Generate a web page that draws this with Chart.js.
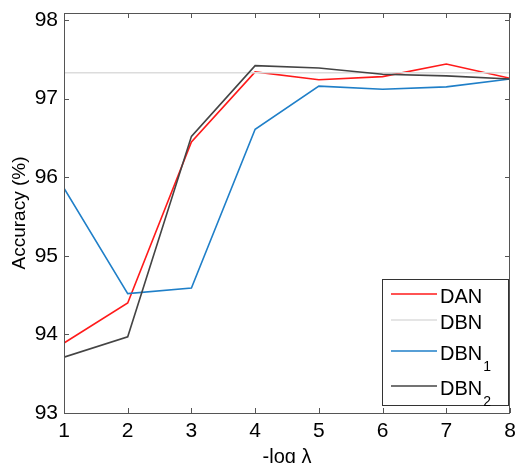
<!DOCTYPE html>
<html>
<head>
<meta charset="utf-8">
<script src="https://cdn.jsdelivr.net/npm/chart.js@4.4.0/dist/chart.umd.min.js"></script>
<style>
  html, body { margin: 0; padding: 0; background: #fff; }
  #wrap { width: 518px; height: 463px; }
</style>
</head>
<body>
<div id="wrap"><canvas id="accChart" width="518" height="463"></canvas></div>
<script>
// -log lambda on x, accuracy (%) on y
const lambdas = [1, 2, 3, 4, 5, 6, 7, 8];
const danAcc  = [93.89, 94.40, 96.45, 97.34, 97.24, 97.28, 97.44, 97.26];
const dbnAcc  = [97.33, 97.33, 97.33, 97.33, 97.33, 97.33, 97.33, 97.33];
const dbn1Acc = [95.86, 94.52, 94.59, 96.61, 97.16, 97.12, 97.15, 97.25];
const dbn2Acc = [93.71, 93.97, 96.52, 97.42, 97.39, 97.31, 97.29, 97.25];
const xTicks = [1, 2, 3, 4, 5, 6, 7, 8];
const yTicks = [93, 94, 95, 96, 97, 98];

const FONT = "'Liberation Sans', Arial, sans-serif";
const AXIS_COLOR = '#555';

const series = [
    { label: 'DAN',  sub: '',  data: danAcc,  color: '#ff1a1a' },
    { label: 'DBN',  sub: '',  data: dbnAcc,  color: '#dcdcdc' },
    { label: 'DBN',  sub: '1', data: dbn1Acc, color: '#1f7fc8' },
    { label: 'DBN',  sub: '2', data: dbn2Acc, color: '#444444' }
];

function toPoints(vals) {
    return lambdas.map((x, i) => ({ x: x, y: vals[i] }));
}

// box round the plot + inward ticks on every side (matlab look)
const framePlugin = {
    id: 'frame',
    afterDatasetsDraw(chart) {
        const { ctx, chartArea: a, scales } = chart;
        const tl = 5;
        ctx.save();
        ctx.strokeStyle = AXIS_COLOR;
        ctx.lineWidth = 1;
        ctx.strokeRect(Math.round(a.left) + 0.5, Math.round(a.top) + 0.5,
                       Math.round(a.right - a.left) - 1, Math.round(a.bottom - a.top));
        ctx.beginPath();
        xTicks.forEach(v => {
            const px = Math.round(scales.x.getPixelForValue(v)) + 0.5;
            ctx.moveTo(px, a.bottom); ctx.lineTo(px, a.bottom - tl);
            ctx.moveTo(px, a.top); ctx.lineTo(px, a.top + tl);
        });
        yTicks.forEach(v => {
            const py = Math.round(scales.y.getPixelForValue(v)) + 0.5;
            ctx.moveTo(a.left, py); ctx.lineTo(a.left + tl, py);
            ctx.moveTo(a.right, py); ctx.lineTo(a.right - tl, py);
        });
        ctx.stroke();
        ctx.restore();
    }
};

// legend with subscripts, bottom right inside the plot
const legendPlugin = {
    id: 'subLegend',
    afterDraw(chart) {
        const { ctx, chartArea: a } = chart;
        const w = 126, h = 126;
        const x0 = Math.round(a.right - 2 - w), y0 = Math.round(a.bottom - 8 - h);
        const rows = [15, 41, 72, 107];
        ctx.save();
        ctx.fillStyle = '#fff';
        ctx.fillRect(x0, y0, w, h);
        ctx.strokeStyle = '#333';
        ctx.lineWidth = 1;
        ctx.strokeRect(x0 + 0.5, y0 + 0.5, w, h);
        series.forEach((s, i) => {
            const y = y0 + rows[i];
            ctx.strokeStyle = s.color;
            ctx.lineWidth = 1.6;
            ctx.beginPath();
            ctx.moveTo(x0 + 9, y); ctx.lineTo(x0 + 55, y);
            ctx.stroke();
            ctx.fillStyle = '#000';
            ctx.textBaseline = 'alphabetic';
            ctx.font = '20px ' + FONT;
            ctx.fillText(s.label, x0 + 58, y + 9);
            if (s.sub) {
                const tw = ctx.measureText(s.label).width;
                ctx.font = '14px ' + FONT;
                ctx.fillText(s.sub, x0 + 58 + tw + 1, y + 20);
            }
        });
        ctx.restore();
    }
};

document.addEventListener('DOMContentLoaded', function() {
    const ctx = document.getElementById('accChart').getContext('2d');

    new Chart(ctx, {
        type: 'line',
        data: {
            datasets: series.map((s, i) => ({
                label: s.label + s.sub,
                data: toPoints(s.data),
                borderColor: s.color,
                backgroundColor: s.color,
                borderWidth: 1.6,
                pointRadius: 0,
                tension: 0,
                order: series.length - i
            }))
        },
        options: {
            responsive: false,
            animation: false,
            devicePixelRatio: 1,
            layout: { padding: { left: 0, right: 8, top: 13, bottom: 0 } },
            plugins: {
                legend: { display: false },
                tooltip: { enabled: false }
            },
            scales: {
                x: {
                    type: 'linear',
                    min: 1,
                    max: 8,
                    afterBuildTicks: s => { s.ticks = xTicks.map(v => ({ value: v })); },
                    afterFit: s => {
                        s.height = 50;
                        s.paddingLeft = 0; s.paddingRight = 0;
                    },
                    grid: { display: false, drawTicks: false },
                    border: { display: false },
                    ticks: { color: '#000', padding: 6, font: { size: 21, family: FONT } },
                    title: {
                        display: true,
                        text: '-log λ',
                        color: '#000',
                        padding: 0,
                        font: { size: 20, family: FONT, lineHeight: 0.6 }
                    }
                },
                y: {
                    type: 'linear',
                    min: 93,
                    max: 98.09,
                    afterBuildTicks: s => { s.ticks = yTicks.map(v => ({ value: v })); },
                    afterFit: s => {
                        s.width = 64;
                        s.paddingTop = 0; s.paddingBottom = 0;
                    },
                    grid: { display: false, drawTicks: false },
                    border: { display: false },
                    ticks: { color: '#000', padding: 6, font: { size: 21, family: FONT } },
                    title: {
                        display: true,
                        text: 'Accuracy (%)',
                        color: '#000',
                        padding: { top: 8, bottom: 0 },
                        font: { size: 19, family: FONT }
                    }
                }
            }
        },
        plugins: [framePlugin, legendPlugin]
    });
});
</script>
</body>
</html>
